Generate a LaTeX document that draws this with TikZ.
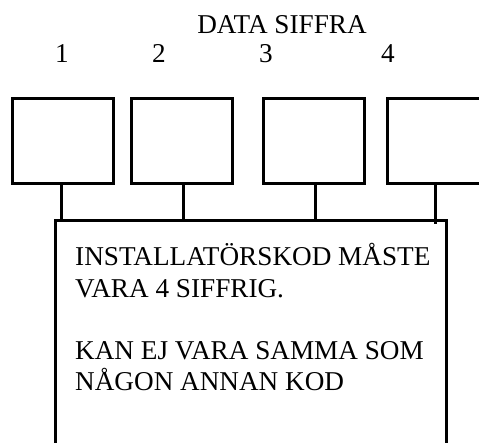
\documentclass[tikz,border=0pt]{standalone}
\usepackage{fontspec}
\setmainfont{Liberation Serif}
\begin{document}
\begin{tikzpicture}[x=1pt,y=-1pt,
  digitbox/.style={draw,line width=3pt,rectangle,minimum width=101pt,minimum height=85pt,inner sep=0pt,anchor=north west},
  stem/.style={line width=3pt},
  lbl/.style={font=\fontsize{27.2}{31}\selectfont,inner sep=0pt,anchor=base}]
\useasboundingbox (0,0) rectangle (479,442);
\clip (0,0) rectangle (479,442);
\fill[white] (0,0) rectangle (479,442);
\node[lbl] (title) at (282,33) {DATA SIFFRA};
\node[lbl] (n1) at (62,62) {1};
\node[lbl] (n2) at (159,62) {2};
\node[lbl] (n3) at (266,62) {3};
\node[lbl] (n4) at (388,62) {4};
\node[digitbox] (b1) at (11,97) {};
\node[digitbox] (b2) at (130,97) {};
\node[digitbox] (b3) at (262,97) {};
\node[digitbox,minimum width=130pt] (b4) at (386,97) {};
\node[draw,line width=3pt,rectangle,minimum width=391pt,minimum height=260pt,inner sep=0pt,anchor=north west] (main) at (54,219) {};
\coordinate (t1) at (61,219);
\coordinate (t2) at (183,219);
\coordinate (t3) at (315,219);
\coordinate (t4) at (435,224);
\draw[stem] (b1.south -| t1) -- (t1);
\draw[stem] (b2.south -| t2) -- (t2);
\draw[stem] (b3.south -| t3) -- (t3);
\draw[stem] ([yshift=2pt]b4.south -| t4) -- (t4);
\node[lbl,anchor=base west] (l1) at (75,265) {INSTALLATÖRSKOD MÅSTE};
\node[lbl,anchor=base west] (l2) at (75,297) {VARA 4 SIFFRIG.};
\node[lbl,anchor=base west] (l3) at (75,359) {KAN EJ VARA SAMMA SOM};
\node[lbl,anchor=base west] (l4) at (75,390) {NÅGON ANNAN KOD};
\end{tikzpicture}
\end{document}
